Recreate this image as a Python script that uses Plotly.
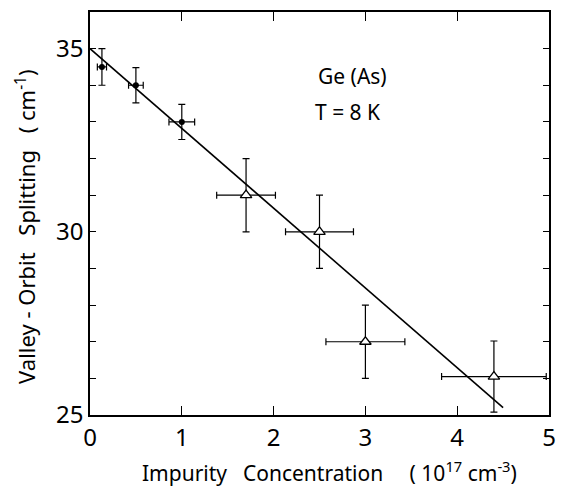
import plotly.graph_objects as go

# Data
conc_circle = [0.13, 0.5, 1.0]
split_circle = [34.5, 34.0, 33.0]
xerr_circle = [0.05, 0.08, 0.14]
yerr_circle = [0.5, 0.48, 0.48]

conc_tri = [1.7, 2.5, 3.0, 4.4]
split_tri = [31.0, 30.0, 27.0, 26.05]
xerr_tri = [0.32, 0.37, 0.43, 0.57]
yerr_tri = [1.0, 1.0, 1.0, 0.97]

fit_x = [0.0, 4.5]
fit_y = [35.0, 25.2]

x_ticks = [0, 1, 2, 3, 4, 5]
y_ticks = [25, 30, 35]
y_labels = ["25", "30", "35"]

FONT = "Noto Sans"

fig = go.Figure()
fig.add_trace(go.Scatter(
    x=fit_x, y=fit_y, mode="lines",
    line=dict(color="black", width=1.6), showlegend=False, hoverinfo="skip"))
fig.add_trace(go.Scatter(
    x=conc_circle, y=split_circle, mode="markers",
    marker=dict(symbol="circle", size=6, color="black"),
    error_x=dict(type="data", array=xerr_circle, color="black", thickness=1.2, width=3.5),
    error_y=dict(type="data", array=yerr_circle, color="black", thickness=1.2, width=3.5),
    showlegend=False))
fig.add_trace(go.Scatter(
    x=conc_tri, y=split_tri, mode="markers",
    marker=dict(symbol="triangle-up", size=10, color="white",
                line=dict(color="black", width=1.3)),
    error_x=dict(type="data", array=xerr_tri, color="black", thickness=1.2, width=3.5),
    error_y=dict(type="data", array=yerr_tri, color="black", thickness=1.2, width=3.5),
    showlegend=False))

fig.update_layout(
    width=566, height=492,
    margin=dict(l=90, r=10, t=12, b=77),
    paper_bgcolor="white", plot_bgcolor="white",
    font=dict(family=FONT, color="black", size=21),
    xaxis=dict(range=[0, 5], tickvals=x_ticks, ticks="inside", ticklen=9,
               tickwidth=1.2, tickcolor="black", showline=True, linecolor="black",
               linewidth=1.5, mirror="ticks", showgrid=False, zeroline=False,
               tickfont=dict(size=24, family=FONT)),
    yaxis=dict(range=[25, 36], tickvals=y_ticks, ticktext=y_labels, ticks="inside",
               ticklen=6, tickwidth=1.2, tickcolor="black", showline=True,
               linecolor="black", linewidth=1.5, mirror="ticks", showgrid=False,
               zeroline=False, tickfont=dict(size=24, family=FONT),
               minor=dict(dtick=1, tick0=25, ticks="inside", ticklen=6,
                          tickwidth=1.2, tickcolor="black", showgrid=False)),
    annotations=[
        dict(text="Impurity\u2002 Concentration\u2002\u2002 ( 10<sup>17</sup> cm<sup>-3</sup>)",
             xref="paper", yref="paper", x=0.521, y=-0.1414, showarrow=False,
             font=dict(size=21, family=FONT), xanchor="center", yanchor="middle"),
        dict(text="Valley - Orbit\u2002 Splitting\u2002 ( cm<sup>-1</sup>)",
             xref="paper", yref="paper", x=-0.1395, y=0.469, showarrow=False,
             textangle=-90, font=dict(size=22, family=FONT),
             xanchor="center", yanchor="middle"),
        dict(text="Ge (As)", x=2.86, y=34.25, xref="x", yref="y", showarrow=False,
             font=dict(size=21, family=FONT)),
        dict(text="T = 8 K", x=2.80, y=33.26, xref="x", yref="y", showarrow=False,
             font=dict(size=21, family=FONT)),
    ],
)

fig.write_html("out.html")
